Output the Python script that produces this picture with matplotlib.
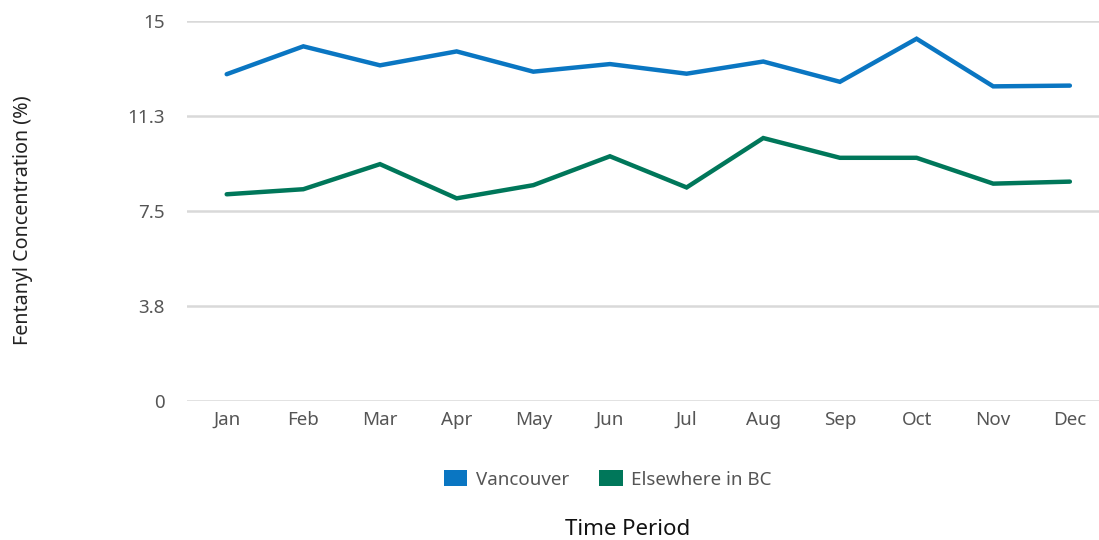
import matplotlib
matplotlib.use("Agg")
import matplotlib.pyplot as plt
from matplotlib.patches import Patch

plt.rcParams['font.family'] = ['Noto Sans', 'DejaVu Sans']

months = ["Jan", "Feb", "Mar", "Apr", "May", "Jun", "Jul", "Aug", "Sep", "Oct", "Nov", "Dec"]
vancouver = [12.9, 14.0, 13.25, 13.8, 13.0, 13.3, 12.92, 13.4, 12.6, 14.3, 12.42, 12.45]
elsewhere = [8.16, 8.36, 9.35, 8.0, 8.52, 9.66, 8.43, 10.38, 9.6, 9.6, 8.58, 8.66]
y_ticks = [0, 3.75, 7.5, 11.25, 15]
y_tick_labels = ["0", "3.8", "7.5", "11.3", "15"]

blue = "#0a76c2"
green = "#00775a"
grid_color = "#d9d9d9"
text_gray = "#555555"

fig = plt.figure(figsize=(10.99, 5.40), dpi=100)
ax = fig.add_axes([0.170, 0.2574, 0.830, 0.7037])

x = list(range(len(months)))
ax.plot(x, vancouver, color=blue, lw=3.2, solid_capstyle='round', solid_joinstyle='miter', zorder=3)
ax.plot(x, elsewhere, color=green, lw=3.2, solid_capstyle='round', solid_joinstyle='miter', zorder=3)

ax.set_ylim(0, 15)
ax.set_xlim(-0.52, 11.38)
ax.set_yticks(y_ticks)
ax.set_yticklabels(y_tick_labels)
ax.set_xticks(x)
ax.set_xticklabels(months)

for t in y_ticks:
    ax.axhline(t, color=grid_color, lw=1.8, zorder=1)

for s in ax.spines.values():
    s.set_visible(False)
ax.tick_params(axis='both', length=0, labelsize=13.5, colors=text_gray)
ax.tick_params(axis='y', pad=16)
ax.tick_params(axis='x', pad=7)

fig.text(0.021, 0.593, "Fentanyl Concentration (%)", rotation=90, ha='center', va='center',
         fontsize=14.2, color="#222222")

handles = [Patch(facecolor=blue, label="Vancouver"), Patch(facecolor=green, label="Elsewhere in BC")]
fig.legend(handles=handles, loc='center', bbox_to_anchor=(0.553, 0.112), ncol=2, frameon=False,
           fontsize=13.5, labelcolor=text_gray, handlelength=1.25, handleheight=0.9,
           handletextpad=0.45, columnspacing=1.6)

fig.text(0.571, 0.010, "Time Period", ha='center', va='baseline', fontsize=16, color="#111111")

fig.savefig("out.png", dpi=100, facecolor="white")
